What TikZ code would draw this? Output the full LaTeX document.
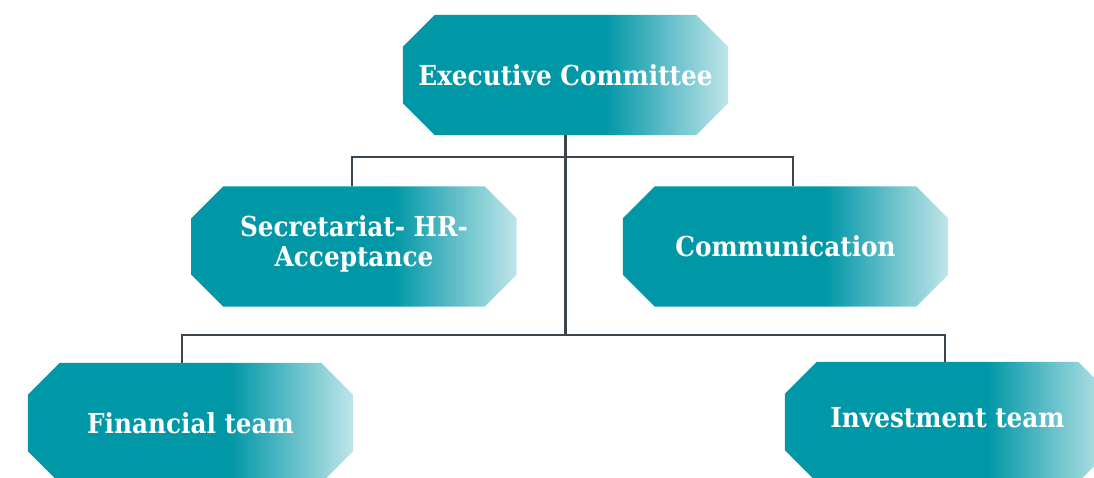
\documentclass[tikz,border=0pt]{standalone}
\usepackage{fontspec}
\setmainfont{DejaVu Serif Condensed}
\usetikzlibrary{positioning}
\definecolor{boxteal}{RGB}{0,151,167}
\definecolor{boxlight}{RGB}{192,229,233}
\definecolor{linegray}{RGB}{58,69,78}
\pgfdeclarehorizontalshading{tealfade}{100bp}{color(0bp)=(boxteal); color(25bp)=(boxteal); color(56bp)=(boxteal); color(75bp)=(boxlight); color(100bp)=(boxlight)}
\tikzstyle{unit}=[rectangle, minimum width=325pt, minimum height=120pt, inner sep=0pt]
\tikzstyle{unitlabel}=[text=white, font=\bfseries\fontsize{27.5}{30}\selectfont, align=center]
\tikzstyle{link}=[draw, linegray, line width=2.5pt]
\def\cut{32pt}

\begin{document}
\begin{tikzpicture}[x=1pt, y=-1pt]
    \useasboundingbox (0,0) rectangle (1094,477);

    % First we draw the units
    \foreach \pos/\name in {{(565.5,75)/exec}, {(354,246.5)/sec}, {(785.5,246.5)/comm}, {(190.5,423)/fin}, {(947.5,422)/inv}}
        \node[unit] (\name) at \pos {};

    % Shaded octagons of the units
    \foreach \name in {exec, sec, comm, fin, inv}
        \shade[shading=tealfade] ([xshift=\cut]\name.north west) -- ([xshift=-\cut]\name.north east) -- ([yshift=-\cut]\name.north east) -- ([yshift=\cut]\name.south east) -- ([xshift=-\cut]\name.south east) -- ([xshift=\cut]\name.south west) -- ([yshift=\cut]\name.south west) -- ([yshift=-\cut]\name.north west) -- cycle;

    % Labels of the units
    \foreach \name/\label/\dy in {exec/Executive Committee/0, sec/Secretariat- HR-\\Acceptance/3, comm/Communication/0, fin/Financial team/0, inv/Investment team/4}
        \node[unitlabel] (\name-label) at ([yshift=\dy pt]\name.center) {\label};

    % Then the junctions of the tree
    \coordinate (hubtop) at (565.5,157);
    \coordinate (hubbot) at (565.5,335);

    % Connect units with lines
    \path[link] (exec.south) -- (hubbot);
    \path[link] ([xshift=-2pt]sec.north) -- ([xshift=-2pt]sec.north |- hubtop) -| ([xshift=7.5pt]comm.north);
    \path[link] ([xshift=-8.5pt]fin.north) -- ([xshift=-8.5pt]fin.north |- hubbot) -| ([xshift=-2.5pt]inv.north);

\end{tikzpicture}
\end{document}
